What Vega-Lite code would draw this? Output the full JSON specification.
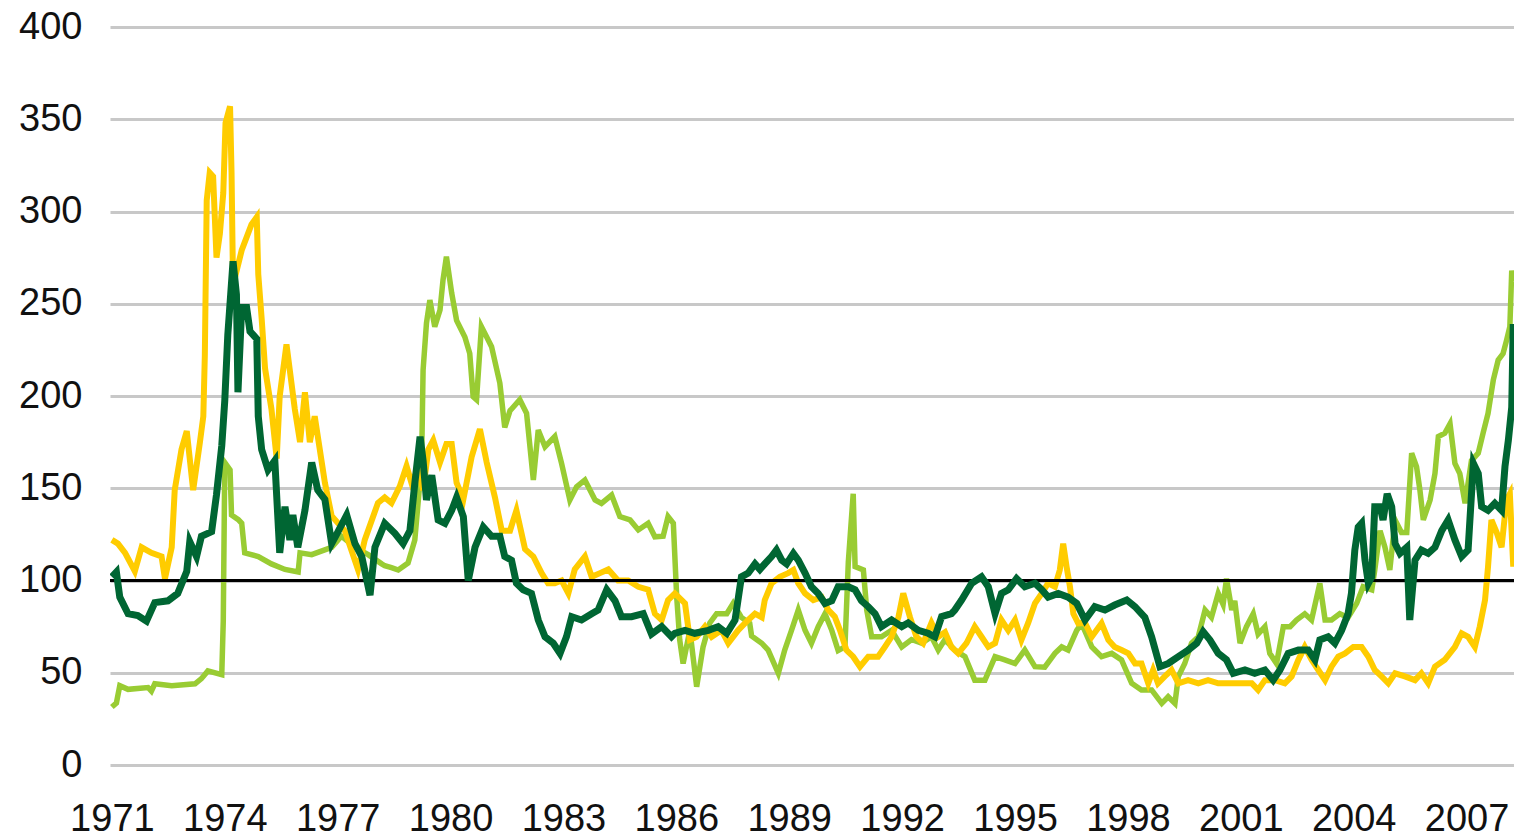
{
  "$schema": "https://vega.github.io/schema/vega-lite/v6.json",
  "width": 1404,
  "height": 738,
  "autosize": {"type": "none"},
  "padding": {"left": 110, "top": 27, "right": 0, "bottom": 73},
  "background": "white",
  "config": {
    "view": {"stroke": null},
    "axis": {"labelFont": "Liberation Sans", "labelFontSize": 38, "labelColor": "#111111", "domain": false, "ticks": false, "title": null}
  },
  "datasets": {
    "yellow": [
      {"t":1971.00,"v":122},{"t":1971.16,"v":120},{"t":1971.35,"v":115},{"t":1971.61,"v":105},{"t":1971.79,"v":118},{"t":1972.05,"v":115},{"t":1972.32,"v":113},{"t":1972.41,"v":101},{"t":1972.59,"v":118},{"t":1972.67,"v":149},{"t":1972.85,"v":171},{"t":1972.99,"v":181},{"t":1973.16,"v":149},{"t":1973.34,"v":175},{"t":1973.43,"v":189},{"t":1973.47,"v":222},{"t":1973.52,"v":306},{"t":1973.60,"v":321},{"t":1973.69,"v":319},{"t":1973.78,"v":275},{"t":1973.87,"v":288},{"t":1973.96,"v":310},{"t":1974.02,"v":348},{"t":1974.14,"v":357},{"t":1974.18,"v":321},{"t":1974.22,"v":260},{"t":1974.45,"v":279},{"t":1974.71,"v":293},{"t":1974.85,"v":297},{"t":1974.89,"v":266},{"t":1974.98,"v":242},{"t":1975.07,"v":215},{"t":1975.24,"v":193},{"t":1975.38,"v":166},{"t":1975.46,"v":200},{"t":1975.64,"v":228},{"t":1975.86,"v":193},{"t":1976.00,"v":175},{"t":1976.13,"v":202},{"t":1976.26,"v":175},{"t":1976.39,"v":189},{"t":1976.66,"v":153},{"t":1976.84,"v":135},{"t":1977.19,"v":127},{"t":1977.54,"v":106},{"t":1977.72,"v":122},{"t":1978.07,"v":142},{"t":1978.25,"v":145},{"t":1978.43,"v":142},{"t":1978.65,"v":151},{"t":1978.83,"v":162},{"t":1978.96,"v":153},{"t":1979.14,"v":160},{"t":1979.27,"v":149},{"t":1979.41,"v":171},{"t":1979.54,"v":176},{"t":1979.72,"v":164},{"t":1979.89,"v":174},{"t":1980.03,"v":174},{"t":1980.16,"v":153},{"t":1980.34,"v":144},{"t":1980.56,"v":167},{"t":1980.78,"v":182},{"t":1980.96,"v":164},{"t":1981.18,"v":145},{"t":1981.36,"v":127},{"t":1981.58,"v":127},{"t":1981.75,"v":138},{"t":1981.98,"v":117},{"t":1982.20,"v":113},{"t":1982.42,"v":104},{"t":1982.59,"v":98.5},{"t":1982.77,"v":98.5},{"t":1982.95,"v":100},{"t":1983.13,"v":93},{"t":1983.30,"v":106},{"t":1983.57,"v":113},{"t":1983.75,"v":102},{"t":1983.97,"v":104},{"t":1984.19,"v":106},{"t":1984.45,"v":100},{"t":1984.72,"v":100},{"t":1984.99,"v":96.6},{"t":1985.25,"v":95},{"t":1985.43,"v":82},{"t":1985.61,"v":78.6},{"t":1985.78,"v":89.4},{"t":1985.96,"v":93},{"t":1986.23,"v":87.6},{"t":1986.36,"v":67.8},{"t":1986.54,"v":69.5},{"t":1986.76,"v":75},{"t":1986.94,"v":69.5},{"t":1987.20,"v":73},{"t":1987.38,"v":66},{"t":1987.64,"v":73},{"t":1987.91,"v":78.6},{"t":1988.09,"v":82},{"t":1988.27,"v":80},{"t":1988.35,"v":89.4},{"t":1988.53,"v":98.5},{"t":1988.75,"v":102},{"t":1988.97,"v":104},{"t":1989.11,"v":105.7},{"t":1989.24,"v":98.5},{"t":1989.42,"v":93},{"t":1989.64,"v":89.4},{"t":1989.86,"v":91},{"t":1990.04,"v":84},{"t":1990.21,"v":80.4},{"t":1990.35,"v":73},{"t":1990.52,"v":62.3},{"t":1990.70,"v":58.7},{"t":1990.88,"v":53.3},{"t":1991.10,"v":58.7},{"t":1991.36,"v":58.7},{"t":1991.54,"v":64},{"t":1991.72,"v":69.5},{"t":1991.90,"v":80},{"t":1992.03,"v":93},{"t":1992.21,"v":80},{"t":1992.38,"v":69.5},{"t":1992.56,"v":66},{"t":1992.78,"v":77},{"t":1992.96,"v":69.5},{"t":1993.14,"v":72},{"t":1993.31,"v":64},{"t":1993.49,"v":60.5},{"t":1993.71,"v":66},{"t":1993.93,"v":75},{"t":1994.11,"v":69.5},{"t":1994.29,"v":64},{"t":1994.47,"v":66},{"t":1994.64,"v":78.6},{"t":1994.82,"v":73},{"t":1995.00,"v":78.6},{"t":1995.17,"v":67.8},{"t":1995.35,"v":77},{"t":1995.53,"v":87.6},{"t":1995.71,"v":93},{"t":1995.88,"v":98.5},{"t":1996.06,"v":96.6},{"t":1996.19,"v":105.7},{"t":1996.28,"v":120},{"t":1996.37,"v":107.5},{"t":1996.46,"v":96.6},{"t":1996.55,"v":82},{"t":1996.68,"v":76.8},{"t":1996.86,"v":77},{"t":1997.04,"v":69.5},{"t":1997.30,"v":76.8},{"t":1997.48,"v":67.8},{"t":1997.65,"v":64},{"t":1997.83,"v":62.3},{"t":1998.01,"v":60.5},{"t":1998.19,"v":55},{"t":1998.36,"v":55},{"t":1998.54,"v":44.3},{"t":1998.67,"v":51.5},{"t":1998.80,"v":44.3},{"t":1998.98,"v":48},{"t":1999.16,"v":51.5},{"t":1999.34,"v":44.3},{"t":1999.60,"v":46},{"t":1999.87,"v":44.3},{"t":2000.13,"v":46},{"t":2000.40,"v":44.3},{"t":2000.67,"v":44.3},{"t":2000.93,"v":44.3},{"t":2001.29,"v":44.3},{"t":2001.46,"v":40.7},{"t":2001.64,"v":46},{"t":2001.91,"v":46},{"t":2002.17,"v":44.3},{"t":2002.35,"v":48},{"t":2002.53,"v":57},{"t":2002.70,"v":64},{"t":2002.88,"v":57},{"t":2003.06,"v":51.5},{"t":2003.24,"v":46},{"t":2003.41,"v":53.3},{"t":2003.59,"v":58.7},{"t":2003.77,"v":60.5},{"t":2003.99,"v":64},{"t":2004.21,"v":64},{"t":2004.39,"v":58.7},{"t":2004.56,"v":51.5},{"t":2004.74,"v":48},{"t":2004.92,"v":44.3},{"t":2005.10,"v":49.7},{"t":2005.36,"v":48},{"t":2005.63,"v":46},{"t":2005.80,"v":49.7},{"t":2005.98,"v":44.3},{"t":2006.16,"v":53.3},{"t":2006.42,"v":57},{"t":2006.69,"v":64},{"t":2006.87,"v":71.4},{"t":2007.04,"v":69.5},{"t":2007.22,"v":64},{"t":2007.35,"v":75},{"t":2007.49,"v":89.4},{"t":2007.57,"v":107.5},{"t":2007.66,"v":132.8},{"t":2007.80,"v":126},{"t":2007.93,"v":118},{"t":2008.06,"v":143.6},{"t":2008.15,"v":147},{"t":2008.24,"v":107.5}
    ],
    "lightgreen": [
      {"t":1971.00,"v":31.4},{"t":1971.12,"v":33.6},{"t":1971.21,"v":43},{"t":1971.43,"v":41},{"t":1971.96,"v":42},{"t":1972.05,"v":40},{"t":1972.14,"v":44},{"t":1972.59,"v":43},{"t":1973.21,"v":44},{"t":1973.38,"v":46.8},{"t":1973.55,"v":51},{"t":1973.92,"v":49},{"t":1973.96,"v":78},{"t":1974.00,"v":164},{"t":1974.14,"v":160},{"t":1974.18,"v":135.5},{"t":1974.36,"v":133},{"t":1974.45,"v":131},{"t":1974.53,"v":115},{"t":1974.89,"v":113},{"t":1975.24,"v":109},{"t":1975.60,"v":106},{"t":1975.95,"v":104.6},{"t":1976.00,"v":115},{"t":1976.31,"v":114},{"t":1976.84,"v":118},{"t":1977.10,"v":124},{"t":1977.46,"v":118},{"t":1977.81,"v":114},{"t":1978.17,"v":109},{"t":1978.25,"v":108},{"t":1978.43,"v":107},{"t":1978.61,"v":105.7},{"t":1978.87,"v":109.5},{"t":1979.05,"v":122},{"t":1979.23,"v":163.5},{"t":1979.27,"v":214},{"t":1979.36,"v":239.5},{"t":1979.45,"v":252},{"t":1979.58,"v":237.6},{"t":1979.72,"v":246.6},{"t":1979.80,"v":263},{"t":1979.89,"v":275.5},{"t":1980.03,"v":255.8},{"t":1980.16,"v":241},{"t":1980.38,"v":232},{"t":1980.51,"v":223},{"t":1980.60,"v":199.6},{"t":1980.69,"v":198},{"t":1980.82,"v":237.6},{"t":1980.96,"v":232},{"t":1981.09,"v":226.7},{"t":1981.31,"v":207},{"t":1981.44,"v":183},{"t":1981.58,"v":192},{"t":1981.84,"v":198},{"t":1982.02,"v":190.6},{"t":1982.20,"v":154.5},{"t":1982.33,"v":181.6},{"t":1982.51,"v":172.5},{"t":1982.77,"v":178},{"t":1982.95,"v":163.5},{"t":1983.17,"v":143.6},{"t":1983.35,"v":150.8},{"t":1983.57,"v":154.5},{"t":1983.84,"v":143.6},{"t":1984.01,"v":141.8},{"t":1984.28,"v":146.3},{"t":1984.50,"v":134.6},{"t":1984.77,"v":132.8},{"t":1984.99,"v":127.4},{"t":1985.25,"v":131},{"t":1985.43,"v":123.7},{"t":1985.65,"v":124},{"t":1985.78,"v":134.6},{"t":1985.92,"v":131},{"t":1986.01,"v":91},{"t":1986.09,"v":67.8},{"t":1986.18,"v":55},{"t":1986.36,"v":73},{"t":1986.54,"v":42.4},{"t":1986.71,"v":64},{"t":1986.89,"v":77},{"t":1987.07,"v":82},{"t":1987.34,"v":82},{"t":1987.51,"v":87.6},{"t":1987.73,"v":80},{"t":1987.95,"v":76.8},{"t":1988.00,"v":70},{"t":1988.27,"v":66},{"t":1988.44,"v":62.3},{"t":1988.71,"v":49.7},{"t":1988.88,"v":62.3},{"t":1989.06,"v":73},{"t":1989.24,"v":84},{"t":1989.42,"v":73},{"t":1989.59,"v":66},{"t":1989.77,"v":75},{"t":1989.95,"v":82},{"t":1990.13,"v":73},{"t":1990.30,"v":62},{"t":1990.48,"v":64},{"t":1990.57,"v":110},{"t":1990.70,"v":147},{"t":1990.75,"v":107.5},{"t":1990.97,"v":105.7},{"t":1991.06,"v":84},{"t":1991.19,"v":69.5},{"t":1991.45,"v":69.5},{"t":1991.72,"v":73},{"t":1991.99,"v":64},{"t":1992.25,"v":68},{"t":1992.52,"v":66},{"t":1992.78,"v":69.5},{"t":1992.96,"v":62.3},{"t":1993.14,"v":68},{"t":1993.40,"v":62.3},{"t":1993.67,"v":58.7},{"t":1993.93,"v":46},{"t":1994.20,"v":46},{"t":1994.47,"v":58.7},{"t":1994.73,"v":57},{"t":1995.00,"v":55},{"t":1995.26,"v":62.3},{"t":1995.53,"v":53.3},{"t":1995.79,"v":53},{"t":1996.06,"v":60.5},{"t":1996.24,"v":64},{"t":1996.41,"v":62.3},{"t":1996.64,"v":73},{"t":1996.77,"v":76.8},{"t":1997.04,"v":64},{"t":1997.30,"v":58.7},{"t":1997.57,"v":60.5},{"t":1997.83,"v":57},{"t":1998.10,"v":44.3},{"t":1998.36,"v":40.7},{"t":1998.63,"v":40.7},{"t":1998.90,"v":33.4},{"t":1999.07,"v":37},{"t":1999.25,"v":33.4},{"t":1999.34,"v":47.9},{"t":1999.51,"v":55},{"t":1999.69,"v":66},{"t":1999.87,"v":69.5},{"t":2000.05,"v":84},{"t":2000.22,"v":80},{"t":2000.40,"v":93},{"t":2000.53,"v":87},{"t":2000.62,"v":101},{"t":2000.76,"v":84},{"t":2000.84,"v":89},{"t":2000.98,"v":66},{"t":2001.15,"v":75},{"t":2001.33,"v":82},{"t":2001.46,"v":71},{"t":2001.64,"v":75},{"t":2001.77,"v":60.5},{"t":2001.95,"v":55},{"t":2002.13,"v":75},{"t":2002.31,"v":75},{"t":2002.48,"v":78.6},{"t":2002.70,"v":82},{"t":2002.88,"v":78.6},{"t":2003.10,"v":98.5},{"t":2003.24,"v":78.6},{"t":2003.41,"v":78.6},{"t":2003.63,"v":82},{"t":2003.85,"v":80},{"t":2004.08,"v":87.6},{"t":2004.25,"v":96.6},{"t":2004.48,"v":95},{"t":2004.56,"v":105.7},{"t":2004.70,"v":127},{"t":2004.83,"v":118},{"t":2004.96,"v":105.7},{"t":2005.10,"v":132.8},{"t":2005.27,"v":126},{"t":2005.41,"v":126},{"t":2005.54,"v":169},{"t":2005.67,"v":161.7},{"t":2005.76,"v":149},{"t":2005.85,"v":132.8},{"t":2006.03,"v":143.6},{"t":2006.16,"v":158},{"t":2006.25,"v":178},{"t":2006.42,"v":179.8},{"t":2006.56,"v":185},{"t":2006.69,"v":163.5},{"t":2006.82,"v":158},{"t":2006.96,"v":141.8},{"t":2007.13,"v":165},{"t":2007.31,"v":169},{"t":2007.44,"v":180},{"t":2007.57,"v":190.6},{"t":2007.71,"v":208.7},{"t":2007.84,"v":219.5},{"t":2007.97,"v":223},{"t":2008.06,"v":230},{"t":2008.15,"v":237.6},{"t":2008.20,"v":268},{"t":2008.24,"v":262}
    ],
    "darkgreen": [
      {"t":1971.00,"v":102},{"t":1971.12,"v":104.6},{"t":1971.21,"v":91},{"t":1971.43,"v":82},{"t":1971.69,"v":81},{"t":1971.92,"v":78},{"t":1972.14,"v":88},{"t":1972.49,"v":89},{"t":1972.75,"v":93},{"t":1972.99,"v":105},{"t":1973.07,"v":121},{"t":1973.25,"v":113},{"t":1973.38,"v":124},{"t":1973.65,"v":126.5},{"t":1973.78,"v":146.5},{"t":1973.92,"v":173},{"t":1974.00,"v":197.5},{"t":1974.08,"v":233},{"t":1974.22,"v":273},{"t":1974.31,"v":255},{"t":1974.35,"v":202},{"t":1974.45,"v":248},{"t":1974.58,"v":248},{"t":1974.67,"v":235},{"t":1974.85,"v":231},{"t":1974.89,"v":189},{"t":1974.98,"v":171},{"t":1975.15,"v":160},{"t":1975.33,"v":165},{"t":1975.46,"v":115},{"t":1975.60,"v":140},{"t":1975.73,"v":122},{"t":1975.81,"v":135.5},{"t":1975.94,"v":118},{"t":1976.13,"v":138},{"t":1976.31,"v":164},{"t":1976.47,"v":149},{"t":1976.66,"v":144},{"t":1976.84,"v":120},{"t":1977.01,"v":126.5},{"t":1977.24,"v":135.5},{"t":1977.46,"v":120},{"t":1977.64,"v":113},{"t":1977.86,"v":92},{"t":1977.99,"v":118},{"t":1978.25,"v":131},{"t":1978.52,"v":125.6},{"t":1978.74,"v":120},{"t":1978.92,"v":127},{"t":1979.05,"v":152.7},{"t":1979.19,"v":178},{"t":1979.27,"v":165},{"t":1979.36,"v":143.6},{"t":1979.50,"v":157},{"t":1979.67,"v":132.8},{"t":1979.85,"v":131},{"t":1980.03,"v":138},{"t":1980.16,"v":145},{"t":1980.34,"v":134.6},{"t":1980.47,"v":100},{"t":1980.65,"v":118},{"t":1980.87,"v":129},{"t":1981.09,"v":124},{"t":1981.31,"v":124},{"t":1981.44,"v":113},{"t":1981.62,"v":111},{"t":1981.75,"v":98.5},{"t":1981.93,"v":95},{"t":1982.15,"v":93},{"t":1982.33,"v":78.6},{"t":1982.51,"v":69.5},{"t":1982.73,"v":66},{"t":1982.91,"v":60.5},{"t":1983.08,"v":69.5},{"t":1983.22,"v":80.4},{"t":1983.48,"v":78.6},{"t":1983.75,"v":82},{"t":1983.92,"v":84},{"t":1984.15,"v":95},{"t":1984.37,"v":89},{"t":1984.54,"v":80.4},{"t":1984.81,"v":80.4},{"t":1985.12,"v":82},{"t":1985.34,"v":71},{"t":1985.61,"v":75},{"t":1985.87,"v":69.5},{"t":1985.96,"v":71.4},{"t":1986.23,"v":73},{"t":1986.49,"v":71.4},{"t":1986.85,"v":73},{"t":1987.11,"v":75},{"t":1987.34,"v":71.4},{"t":1987.56,"v":78.6},{"t":1987.73,"v":102},{"t":1987.91,"v":104},{"t":1988.09,"v":109},{"t":1988.22,"v":106},{"t":1988.35,"v":109},{"t":1988.53,"v":113},{"t":1988.66,"v":116.5},{"t":1988.80,"v":111},{"t":1988.93,"v":109},{"t":1989.11,"v":114.7},{"t":1989.24,"v":111},{"t":1989.42,"v":104},{"t":1989.59,"v":96.6},{"t":1989.77,"v":93},{"t":1989.95,"v":87.6},{"t":1990.13,"v":89},{"t":1990.30,"v":96.6},{"t":1990.57,"v":96.6},{"t":1990.75,"v":95},{"t":1990.92,"v":89},{"t":1991.10,"v":85.8},{"t":1991.28,"v":82},{"t":1991.45,"v":75},{"t":1991.72,"v":78.6},{"t":1991.99,"v":75},{"t":1992.16,"v":77},{"t":1992.43,"v":73},{"t":1992.69,"v":71.4},{"t":1992.87,"v":69.5},{"t":1993.05,"v":80.4},{"t":1993.31,"v":82},{"t":1993.40,"v":84},{"t":1993.58,"v":89.4},{"t":1993.85,"v":98.5},{"t":1994.11,"v":102},{"t":1994.29,"v":96.6},{"t":1994.47,"v":82},{"t":1994.64,"v":93},{"t":1994.82,"v":95},{"t":1995.04,"v":101},{"t":1995.26,"v":96.6},{"t":1995.53,"v":98.5},{"t":1995.71,"v":95},{"t":1995.88,"v":91},{"t":1996.15,"v":93},{"t":1996.41,"v":91},{"t":1996.64,"v":87.6},{"t":1996.86,"v":78.6},{"t":1997.12,"v":85.8},{"t":1997.39,"v":84},{"t":1997.65,"v":86.7},{"t":1997.97,"v":89.4},{"t":1998.19,"v":85.8},{"t":1998.45,"v":80},{"t":1998.63,"v":69.5},{"t":1998.85,"v":53.3},{"t":1999.07,"v":55},{"t":1999.34,"v":58.7},{"t":1999.60,"v":62.3},{"t":1999.83,"v":66},{"t":2000.00,"v":72.3},{"t":2000.18,"v":67.8},{"t":2000.40,"v":60.5},{"t":2000.62,"v":57},{"t":2000.80,"v":49.7},{"t":2001.11,"v":51.5},{"t":2001.37,"v":49.7},{"t":2001.64,"v":51.5},{"t":2001.86,"v":46},{"t":2002.04,"v":51.5},{"t":2002.26,"v":60.5},{"t":2002.53,"v":62.3},{"t":2002.79,"v":62.3},{"t":2002.97,"v":57},{"t":2003.10,"v":67.8},{"t":2003.32,"v":69.5},{"t":2003.50,"v":66},{"t":2003.68,"v":73},{"t":2003.85,"v":82},{"t":2003.94,"v":93},{"t":2004.03,"v":116.5},{"t":2004.12,"v":129},{"t":2004.21,"v":131},{"t":2004.30,"v":111},{"t":2004.39,"v":98.5},{"t":2004.48,"v":102},{"t":2004.56,"v":140},{"t":2004.70,"v":140},{"t":2004.78,"v":132.8},{"t":2004.89,"v":147},{"t":2005.01,"v":140},{"t":2005.10,"v":120},{"t":2005.23,"v":114.7},{"t":2005.41,"v":118},{"t":2005.49,"v":78.6},{"t":2005.63,"v":111},{"t":2005.80,"v":116.5},{"t":2005.98,"v":114.7},{"t":2006.16,"v":118},{"t":2006.34,"v":127},{"t":2006.51,"v":132.8},{"t":2006.69,"v":122},{"t":2006.87,"v":113},{"t":2007.04,"v":116.5},{"t":2007.18,"v":163.5},{"t":2007.31,"v":158},{"t":2007.40,"v":140},{"t":2007.57,"v":138},{"t":2007.75,"v":141.8},{"t":2007.93,"v":138},{"t":2008.02,"v":161.7},{"t":2008.11,"v":176},{"t":2008.20,"v":194},{"t":2008.24,"v":239}
    ],
    "ref": [{"v": 100}]
  },
  "layer": [
    {
      "data": {"name": "lightgreen"},
      "mark": {"type": "line", "color": "#99CC33", "strokeWidth": 5.5, "clip": true},
      "encoding": {
        "x": {"field": "t", "type": "quantitative", "scale": {"domain": [1970.95, 2008.26], "nice": false, "zero": false},
              "axis": {"values": [1971,1974,1977,1980,1983,1986,1989,1992,1995,1998,2001,2004,2007], "format": "d", "grid": false, "labelPadding": 35, "labelOverlap": false, "labelFlush": false}},
        "y": {"field": "v", "type": "quantitative", "scale": {"domain": [0, 400], "nice": false},
              "axis": {"values": [0,50,100,150,200,250,300,350,400], "grid": true, "gridColor": "#c8c8c8", "gridWidth": 3, "labelPadding": 28}}
      }
    },
    {
      "data": {"name": "yellow"},
      "mark": {"type": "line", "color": "#FFCC00", "strokeWidth": 6, "clip": true},
      "encoding": {
        "x": {"field": "t", "type": "quantitative"},
        "y": {"field": "v", "type": "quantitative"}
      }
    },
    {
      "data": {"name": "ref"},
      "mark": {"type": "rule", "color": "#000000", "strokeWidth": 3},
      "encoding": {
        "y": {"field": "v", "type": "quantitative"}
      }
    },
    {
      "data": {"name": "darkgreen"},
      "mark": {"type": "line", "color": "#006633", "strokeWidth": 7, "clip": true},
      "encoding": {
        "x": {"field": "t", "type": "quantitative"},
        "y": {"field": "v", "type": "quantitative"}
      }
    }
  ]
}
